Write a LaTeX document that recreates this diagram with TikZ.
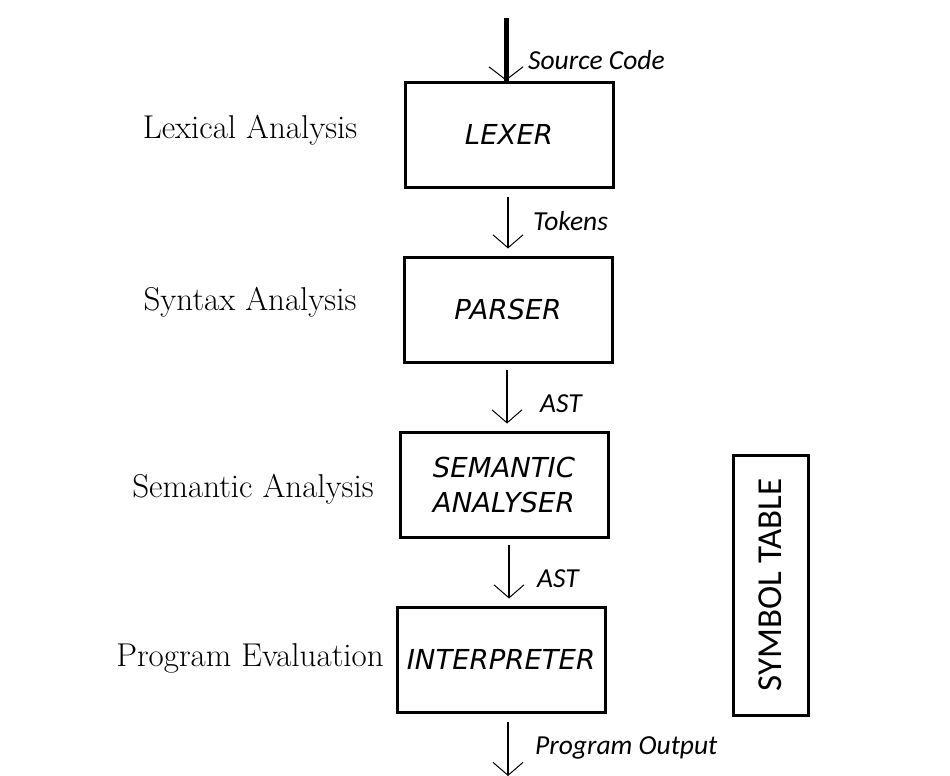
\documentclass[tikz,border=0pt]{standalone}
\usepackage{fontspec}
\newfontfamily\boxfont{DejaVu Sans}
\newfontfamily\lblfont{Carlito}
\usetikzlibrary{arrows.meta}
\begin{document}
\begin{tikzpicture}[x=1pt,y=-1pt,
  stage/.style={draw,line width=3pt,minimum width=208pt,minimum height=105pt,inner sep=0pt,
    font=\boxfont\itshape\fontsize{27.5}{35}\selectfont,align=left},
  arr/.style={line width=1.3pt,-{Straight Barb[length=13pt,width=30pt,line width=1pt]}},
  lab/.style={anchor=west,font=\lblfont\itshape\fontsize{27.5}{30}\selectfont,inner sep=0pt},
  side/.style={font=\fontsize{33}{38}\selectfont,inner sep=0pt}]
\useasboundingbox (0,0) rectangle (950,776);
\node[stage] (lexer) at (509,134.5) {LEXER};
\node[stage] (parser) at (508,309.5) {PARSER};
\node[stage] (sem) at (504,484.5) {SEMANTIC\\ANALYSER};
\node[stage] (interp) at (501,659.5) {INTERPRETER};
\node[draw,line width=3pt,minimum width=75pt,minimum height=260pt,inner sep=0pt] (sym) at (770.5,585) {};
\node[rotate=90,font=\lblfont\fontsize{35}{38}\selectfont] (symtxt) at (sym.center) {SYMBOL TABLE};
\coordinate (src) at (506,18);
\coordinate (out) at (508,776);
\draw[line width=5pt] (src) -- ([yshift=-2pt]src |- lexer.north);
\draw[line width=1pt,-{Straight Barb[length=13pt,width=34pt,line width=1pt]}] ([yshift=-40pt]src) -- (src |- lexer.north);
\draw[arr,shorten <=8pt,shorten >=7pt] (lexer.south -| 508,0) -- (parser.north -| 508,0);
\draw[arr,shorten <=6pt,shorten >=7pt] (parser.south -| 507,0) -- (sem.north -| 507,0);
\draw[arr,shorten <=6pt,shorten >=7pt] (sem.south -| 509,0) -- (interp.north -| 509,0);
\draw[arr,shorten <=8pt] (interp.south -| 508,0) -- (out);
\node[lab] (l0) at (528,60) {Source Code};
\node[lab] (l1) at (533,221) {Tokens};
\node[lab] (l2) at (540,404) {AST};
\node[lab] (l3) at (537,579) {AST};
\node[lab] (l4) at (535,748) {Program Output};
\node[side] (s1) at (250,130) {Lexical Analysis};
\node[side] (s2) at (250,302) {Syntax Analysis};
\node[side] (s3) at (253,489) {Semantic Analysis};
\node[side] (s4) at (250,658) {Program Evaluation};
\end{tikzpicture}
\end{document}
